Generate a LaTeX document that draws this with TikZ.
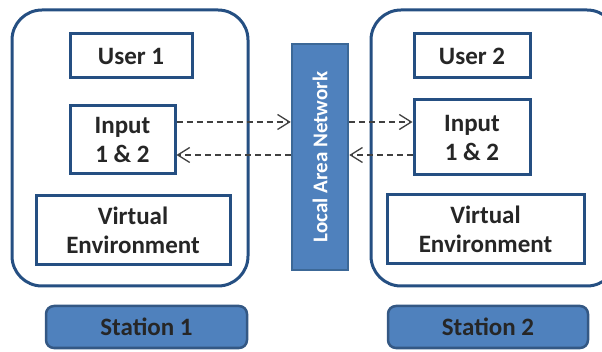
\documentclass[tikz,border=0pt]{standalone}
\usepackage{fontspec}
\setmainfont{Carlito}
\usetikzlibrary{arrows.meta}
\definecolor{boxline}{RGB}{37,79,130}
\definecolor{boxfill}{RGB}{79,129,189}
\definecolor{stline}{RGB}{52,88,132}
\definecolor{lanline}{RGB}{60,104,151}

\begin{document}
\begin{tikzpicture}[x=1pt,y=-1pt,
    snode/.style={draw=boxline,line width=3pt,rounded corners=30pt,inner sep=0pt},
    bnode/.style={draw=boxline,line width=3pt,fill=white,align=center,inner sep=0pt,
        font=\fontsize{25}{29}\selectfont\bfseries,text=black!85},
    lnode/.style={draw=stline,line width=2.5pt,fill=boxfill,rounded corners=8pt,inner sep=0pt,
        font=\fontsize{25}{29}\selectfont\bfseries,text=black!85},
    link/.style={dash pattern=on 6pt off 4pt,line width=1.3pt,draw=black!75,
        -{Straight Barb[length=12pt,width=15pt,line width=1.3pt]}}]
    \useasboundingbox (0,0) rectangle (602,352);
    % stations
    \node[snode,minimum width=236pt,minimum height=276pt] (s1) at (130,148) {};
    \node[snode,minimum width=246pt,minimum height=276pt] (s2) at (494,148) {};
    \node[bnode,minimum width=122pt,minimum height=44pt] (u1) at (131,56) {User 1};
    \node[bnode,minimum width=105pt,minimum height=68pt] (i1) at (122.5,140) {Input\\1 \& 2};
    \node[bnode,minimum width=194pt,minimum height=69pt] (v1) at (133,230.5) {Virtual\\Environment};
    \node[bnode,minimum width=116pt,minimum height=44pt] (u2) at (472,56) {User 2};
    \node[bnode,minimum width=116pt,minimum height=75pt] (i2) at (472,137.5) {Input\\1 \& 2};
    \node[bnode,minimum width=197pt,minimum height=69pt] (v2) at (485.5,229.5) {Virtual\\Environment};
    \node[lnode,minimum width=201pt,minimum height=42pt] (l1) at (146.5,327) {Station 1};
    \node[lnode,minimum width=200pt,minimum height=42pt] (l2) at (488,327) {Station 2};
    % network
    \node[draw=lanline,line width=2.5pt,fill=boxfill,minimum width=56pt,minimum height=226pt,inner sep=0pt] (lan) at (320,157) {};
    \node[rotate=90,text=white,font=\fontsize{21}{25}\selectfont\bfseries] (lant) at (lan.center) {Local Area Network};
    % links
    \draw[link] ([yshift=18pt]i1.east) -- ([yshift=18pt]i1.east -| lan.west);
    \draw[link] ([yshift=-15pt]i1.east -| lan.west) -- ([yshift=-15pt]i1.east);
    \draw[link] ([yshift=15.5pt]i2.west -| lan.east) -- ([yshift=15.5pt]i2.west);
    \draw[link] ([yshift=-17.5pt]i2.west) -- ([yshift=-17.5pt]i2.west -| lan.east);
\end{tikzpicture}
\end{document}
